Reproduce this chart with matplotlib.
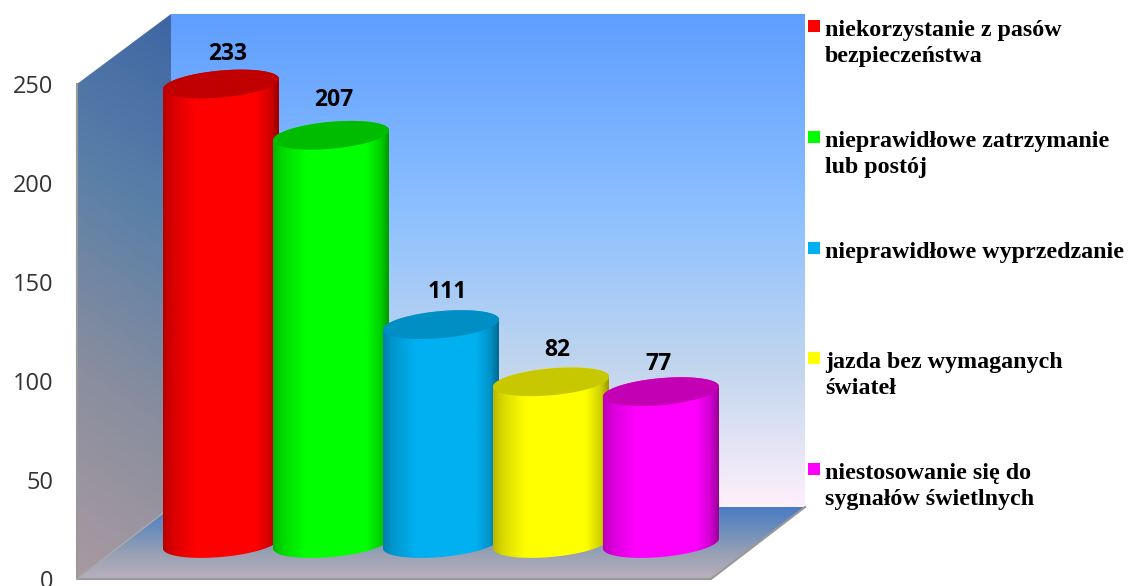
import matplotlib
matplotlib.use("Agg")
import matplotlib.pyplot as plt
import numpy as np
from matplotlib.colors import LinearSegmentedColormap, to_rgb
from matplotlib.patches import Polygon, Rectangle

# Values
categories = [
    "niekorzystanie z pasów\nbezpieczeństwa",
    "nieprawidłowe zatrzymanie\nlub postój",
    "nieprawidłowe wyprzedzanie",
    "jazda bez wymaganych\nświateł",
    "niestosowanie się do\nsygnałów świetlnych",
]
values = [233, 207, 111, 82, 77]
yticks = [0, 50, 100, 150, 200, 250]
colors = ["#ff0000", "#00ff00", "#00b0f0", "#ffff00", "#ff00ff"]
top_colors = ["#c00000", "#00bc00", "#008fc4", "#c8c800", "#c400b4"]

W, H = 1129, 586
PX_PER_UNIT = 1.972   # vertical scale of the value axis
BASE_Y = 543.5        # pixel row of value 0 at the bar centres
X0, DX = 221, 110     # first bar centre and bar spacing in pixels

fig = plt.figure(figsize=(W / 100, H / 100), dpi=100, facecolor="white")

# Pixel axes for walls, floor and legend
bg = fig.add_axes([0, 0, 1, 1], zorder=0)
bg.set_xlim(0, W)
bg.set_ylim(H, 0)
bg.axis("off")


def fill_poly(ax, pts, rgb, zorder=1):
    pts = np.array(pts, dtype=float)
    x0, x1 = pts[:, 0].min(), pts[:, 0].max()
    y0, y1 = pts[:, 1].min(), pts[:, 1].max()
    im = ax.imshow(rgb, extent=(x0, x1, y1, y0), origin="upper", aspect="auto",
                   interpolation="bilinear", zorder=zorder)
    im.set_clip_path(Polygon(pts, transform=ax.transData))


# Back wall
stops = [(0.0, "#5f9eff"), (0.4, "#8cc0ff"), (0.72, "#c2d6ee"), (1.0, "#fff0fb")]
cmap = LinearSegmentedColormap.from_list("wall", stops)
fill_poly(bg, [(171, 14), (805, 14), (805, 507), (171, 507)],
          cmap(np.linspace(0, 1, 256))[:, None, :3])

# Left wall, the gradient runs slightly diagonal
cmap = LinearSegmentedColormap.from_list("side", ["#3f66a4", "#5a7fa8", "#8a8e9e", "#a89aa2"])
xx, yy = np.meshgrid(np.linspace(0, 1, 60), np.linspace(0, 1, 256))
fill_poly(bg, [(77, 84), (171, 14), (171, 507), (77, 579)],
          cmap(np.clip(0.9 * yy + 0.1 * (1 - xx), 0, 1))[:, :, :3])

# Floor
cmap = LinearSegmentedColormap.from_list("floor", ["#4a7cc4", "#6f8fbb", "#9aa2b4", "#b9afbd"])
fill_poly(bg, [(171, 507), (805, 507), (711, 579), (77, 579)],
          cmap(np.linspace(0, 1, 128))[:, None, :3])

bg.plot([77, 77, 711, 805], [84, 579, 579, 507], color="#999999", lw=1.5, zorder=2)
bg.plot([77, 171], [579, 507], color="#aaaaaa", lw=1.0, zorder=2)

# Value axis on the front edge of the left wall
axis = fig.add_axes([77 / W, 1 - 579 / H, 0.0001, (579 - 84) / H], zorder=1)
axis.patch.set_visible(False)
axis.set_ylim(0, 250)
axis.set_xticks([])
axis.set_yticks(yticks)
axis.tick_params(axis="y", length=0, pad=17, labelsize=17, labelcolor="#333333")
for lab in axis.get_yticklabels():
    lab.set_fontfamily("Open Sans")
for sp in axis.spines.values():
    sp.set_visible(False)

# Bars axes: x in category index, y in chart values
ax = fig.add_axes([0, 0, 1, 1], zorder=2)
ax.patch.set_visible(False)
ax.axis("off")
xlim = (-X0 / DX, (W - X0) / DX)
ylim = ((BASE_Y - H) / PX_PER_UNIT, BASE_Y / PX_PER_UNIT)

half = 58 / DX
ell_b = 13.5 / PX_PER_UNIT
ell_s = 5 / PX_PER_UNIT
shade_x = [0.0, 0.08, 0.28, 0.8, 0.93, 1.0]
shade_v = [0.72, 0.85, 1.0, 1.0, 0.82, 0.6]
label_dx = [7, 3, 6, 6, -3]
label_dy = [30, 35, 33, 32, 28]

t = np.linspace(0, np.pi, 60)
for i, (v, c, tc) in enumerate(zip(values, colors, top_colors)):
    z = 3 + i
    # lower half of the ellipse at the base, then the far rim at the top
    base_x = i + half * np.cos(t)
    base_y = -ell_b * np.sin(t) + ell_s * np.cos(t)
    top_x = i - half * np.cos(t)
    top_y = v + ell_b * np.sin(t) - ell_s * np.cos(t)
    body = np.column_stack([np.r_[base_x, top_x], np.r_[base_y, top_y]])

    shade = np.interp(np.linspace(0, 1, 200), shade_x, shade_v)
    strip = (shade[:, None] * np.array(to_rgb(c)))[None, :, :]
    im = ax.imshow(strip, extent=(i - half, i + half, -30, v + 30), aspect="auto",
                   interpolation="bilinear", zorder=z)
    im.set_clip_path(Polygon(body, transform=ax.transData))

    t2 = np.linspace(0, 2 * np.pi, 120)
    ax.add_patch(Polygon(np.column_stack([i + half * np.cos(t2),
                                          v + ell_b * np.sin(t2) + ell_s * np.cos(t2)]),
                         closed=True, fc=tc, ec="none", zorder=z + 0.5))
    ax.annotate(str(v), (i, v), xytext=(label_dx[i] * 0.72, label_dy[i] * 0.72),
                textcoords="offset points", ha="center", va="center",
                fontsize=16.5, fontweight="bold", family="Open Sans", color="black", zorder=20)
ax.set_xlim(*xlim)
ax.set_ylim(*ylim)

# Legend
marker_y = [26, 137, 248, 358, 469]
for name, c, my in zip(categories, colors, marker_y):
    bg.add_patch(Rectangle((808, my - 6), 12, 12, fc=c, ec="none", zorder=3))
    bg.text(825, my - 6, name, ha="left", va="top", family="Liberation Serif",
            fontweight="bold", fontsize=17.3, linespacing=1.29, color="black", zorder=3)

fig.savefig("out.png", dpi=100)
